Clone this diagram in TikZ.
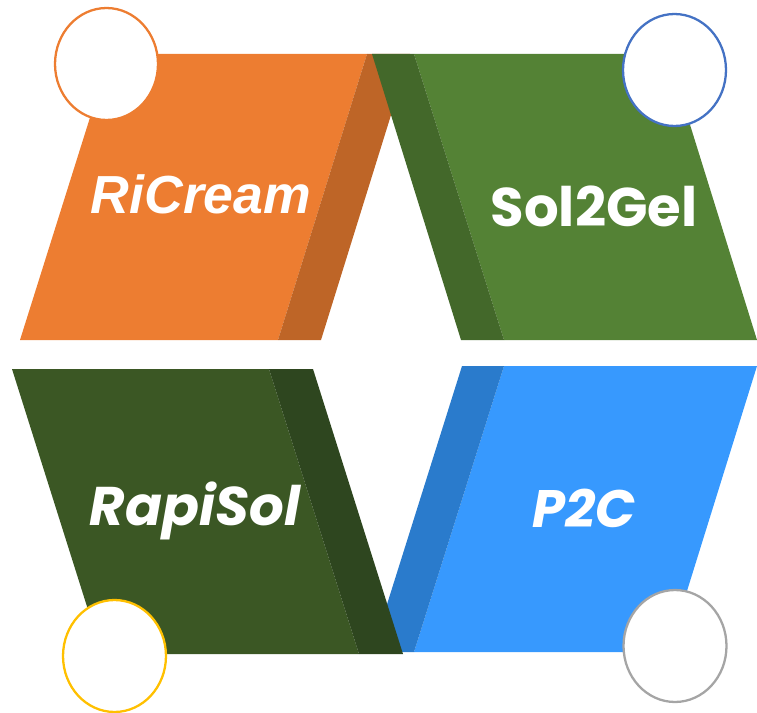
\documentclass[tikz,border=0pt]{standalone}
\usepackage{fontspec}
\usetikzlibrary{shapes.geometric}
\newfontfamily\riFont{Liberation Sans}
\newfontfamily\popFont{Poppins}
\definecolor{orangeFace}{HTML}{ED7D31}
\definecolor{orangeSide}{HTML}{BE6527}
\definecolor{greenFace}{HTML}{548235}
\definecolor{greenSide}{HTML}{43682A}
\definecolor{olivFace}{HTML}{3B5724}
\definecolor{olivSide}{HTML}{2E461F}
\definecolor{blueFace}{HTML}{3799FE}
\definecolor{blueSide}{HTML}{2A7BCC}
\definecolor{ringBlue}{HTML}{4472C4}
\definecolor{ringGold}{HTML}{FFC000}
\definecolor{ringGray}{HTML}{A5A5A5}
\tikzset{
  badge/.style  = { ellipse, draw=#1, line width=1.3pt, fill=white, minimum width=2.06cm, minimum height=2.24cm, inner sep=0pt },
  title/.style  = { text=white, inner sep=0pt }
}
\begin{document}
\begin{tikzpicture}[x=0.02cm,y=-0.02cm]
  \useasboundingbox (0,0) rectangle (757,713);

  % Draw lower row
  \fill[blueFace] (504,366) -- (757,366) -- (668,652) -- (414,652) -- cycle;
  \fill[blueSide] (462,366) -- (504,366) -- (414,652) -- (372,652) -- cycle;
  \fill[olivFace] (12,369) -- (269,369) -- (359,654) -- (102,654) -- cycle;
  \fill[olivSide] (269,369) -- (313,369) -- (403,654) -- (359,654) -- cycle;

  % Draw upper row
  \fill[orangeFace] (110,54) -- (367,54) -- (278,340) -- (20,340) -- cycle;
  \fill[orangeSide] (367,54) -- (410,54) -- (321,340) -- (278,340) -- cycle;
  \fill[greenFace] (414,54) -- (668,54) -- (757,340) -- (504,340) -- cycle;
  \fill[greenSide] (372,54) -- (414,54) -- (504,340) -- (461,340) -- cycle;

  % Draw badges
  \node[badge=orangeFace] (dotRi)   at (106.5,64) {};
  \node[badge=ringBlue]   (dotSol)  at (674.5,70) {};
  \node[badge=ringGold]   (dotRapi) at (114.5,656) {};
  \node[badge=ringGray]   (dotP)    at (675,646) {};

  % Draw labels
  \node[title, font=\riFont\bfseries\itshape\fontsize{30.5}{30}\selectfont] (ricream) at (201,194) {RiCream};
  \node[title, font=\popFont\bfseries\fontsize{31}{30}\selectfont] (solgel) at (594,206) {Sol2Gel};
  \node[title, font=\popFont\bfseries\itshape\fontsize{31}{30}\selectfont] (rapisol) at (195,511) {RapiSol};
  \node[title, font=\popFont\bfseries\itshape\fontsize{30}{30}\selectfont] (ptwoc) at (584,508) {P2C};
\end{tikzpicture}
\end{document}
